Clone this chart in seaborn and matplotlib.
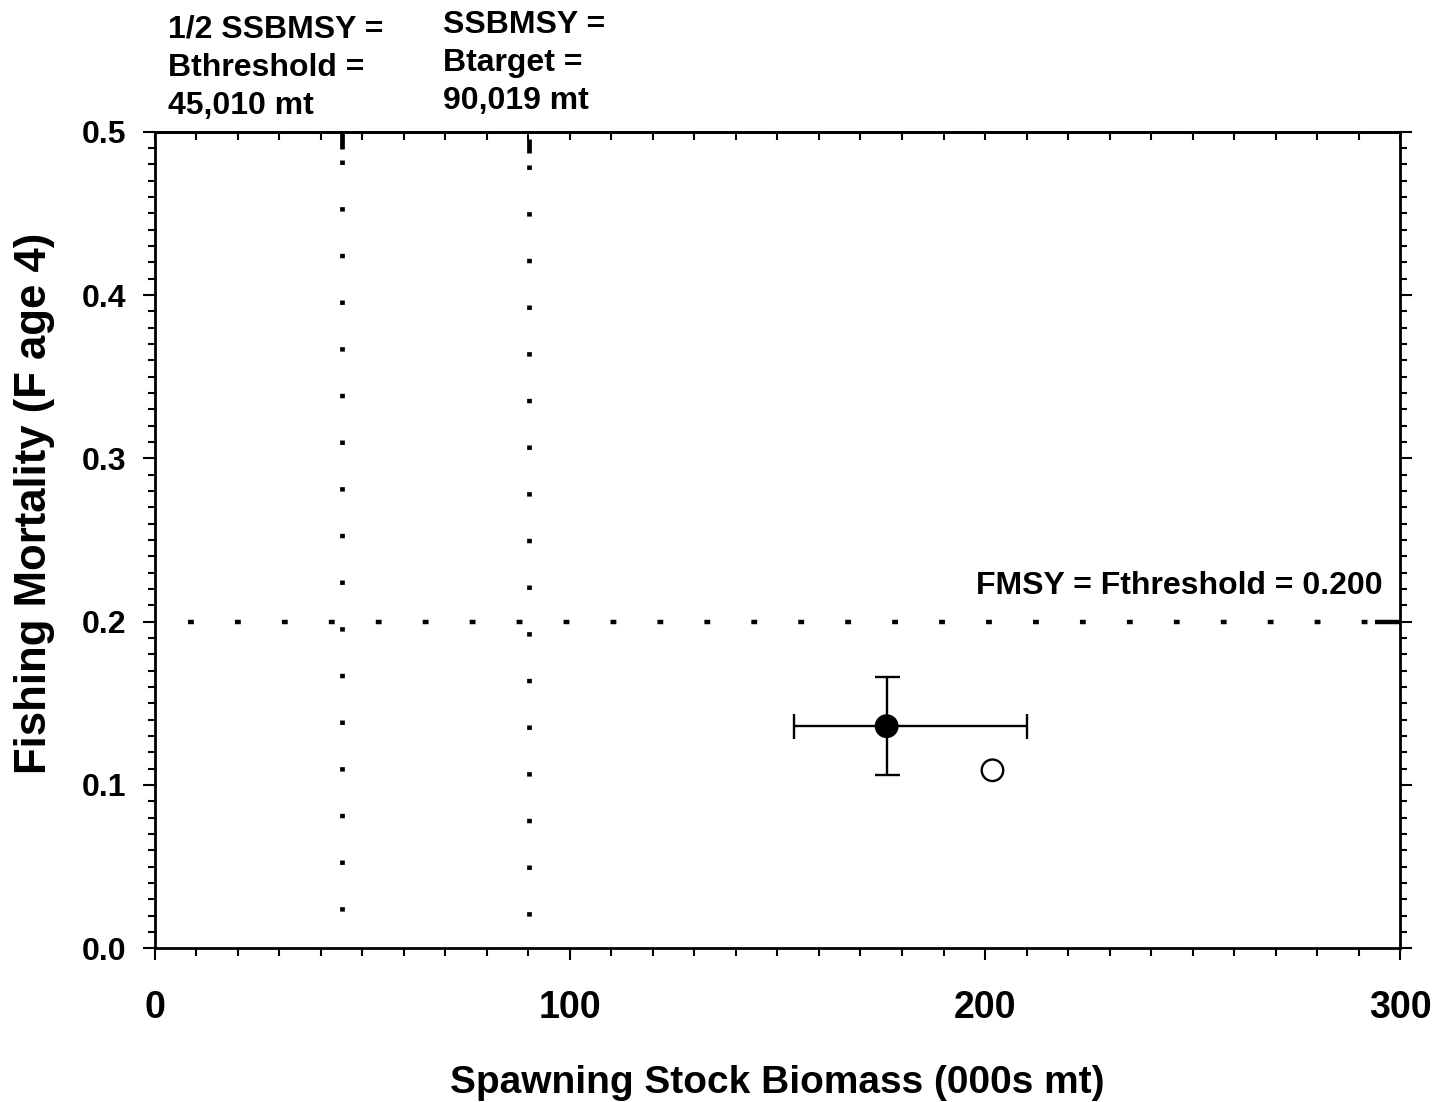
import numpy as np
import seaborn as sns
import matplotlib.pyplot as plt
import pandas as pd
from matplotlib.ticker import MultipleLocator

# ------------- Datos -------------
ssb = [176.3, 201.8]            # 000s mt
f_age4 = [0.136, 0.109]
estado = ["actual", "ajustado"]
ssb_lo, ssb_hi = 154.0, 210.2
f_lo, f_hi = 0.106, 0.166

b_threshold = 45.010
b_target = 90.019
f_msy = 0.200

sns.set_style("ticks", {"axes.edgecolor": "black", "text.color": "black",
                        "axes.labelcolor": "black", "xtick.color": "black",
                        "ytick.color": "black"})
plt.rcParams["font.family"] = ["Liberation Sans", "DejaVu Sans"]
plt.rcParams["font.weight"] = "bold"
plt.rcParams["lines.scale_dashes"] = False

fig = plt.figure(figsize=(14.41, 11.02), dpi=100)
ax = fig.add_axes([0.10756, 0.13947, 0.86399, 0.74102])

df = pd.DataFrame({"ssb": ssb, "f": f_age4, "estado": estado})

# barras de error del punto actual
ax.errorbar(ssb[0], f_age4[0],
            xerr=[[ssb[0] - ssb_lo], [ssb_hi - ssb[0]]],
            yerr=[[f_age4[0] - f_lo], [f_hi - f_age4[0]]],
            fmt="none", ecolor="black", elinewidth=1.7, capsize=9, capthick=1.7, zorder=2)

sns.scatterplot(data=df, x="ssb", y="f", hue="estado",
                palette={"actual": "black", "ajustado": "white"},
                edgecolor="black", linewidth=1.7, s=240, legend=False, ax=ax, zorder=3)

# lineas de referencia punteadas
punto = dict(color="black", lw=3.4, dashes=(3.2, 30.4), dash_capstyle="butt")
ax.plot([b_threshold, b_threshold], [0.4824, 0.0], **punto)
ax.plot([b_target, b_target], [0.4798, 0.0], **punto)
ax.plot([7.95, 300], [f_msy, f_msy], color="black", lw=3.2, dashes=(4.2, 29.6),
        dash_capstyle="butt")
ax.plot([b_threshold, b_threshold], [0.4993, 0.4895], color="black", lw=3.4, solid_capstyle="butt")
ax.plot([b_target, b_target], [0.4956, 0.4870], color="black", lw=3.4, solid_capstyle="butt")
ax.plot([294, 300], [f_msy, f_msy], color="black", lw=3.2, solid_capstyle="butt")

ax.set_xlim(0, 300)
ax.set_ylim(0, 0.5)
ax.set_xticks([0, 100, 200, 300])
ax.set_yticks([0.0, 0.1, 0.2, 0.3, 0.4, 0.5])
ax.set_yticklabels(["0.0", "0.1", "0.2", "0.3", "0.4", "0.5"])
ax.xaxis.set_minor_locator(MultipleLocator(10))
ax.yaxis.set_minor_locator(MultipleLocator(0.01))

for s in ax.spines.values():
    s.set_linewidth(2.0)
    s.set_visible(True)

ax.tick_params(axis="x", which="major", direction="out", length=8.6, width=1.5,
               labelsize=27, pad=21.5, top=False)
ax.tick_params(axis="x", which="minor", direction="out", length=5.5, width=1.5, top=False)
ax.tick_params(axis="y", which="major", direction="out", length=8.6, width=1.5,
               labelsize=23, pad=12, right=True)
ax.tick_params(axis="y", which="minor", direction="out", length=5.0, width=1.5, right=True)

arriba = ax.secondary_xaxis("top")
arriba.set_xticks([0, 100, 200, 300])
arriba.xaxis.set_minor_locator(MultipleLocator(10))
arriba.tick_params(axis="x", which="both", direction="in", length=5.5, width=1.5, labeltop=False)
arriba.spines["top"].set_linewidth(2.0)

ax.set_xlabel("Spawning Stock Biomass (000s mt)", fontsize=28, fontweight="bold", labelpad=28)
ax.set_ylabel("Fishing Mortality (F age 4)", fontsize=31.5, fontweight="bold", labelpad=19)
ax.yaxis.label.set_y(0.545)

ax.text(295.9, 0.2167, "FMSY = Fthreshold = 0.200", ha="right", va="baseline",
        fontsize=23, fontweight="bold")
fig.text(0.1166, 1 - 68 / 1102, "1/2 SSBMSY =\nBthreshold =\n45,010 mt", ha="left", va="center",
         fontsize=23, fontweight="bold", linespacing=1.35)
fig.text(0.3074, 1 - 63 / 1102, "SSBMSY =\nBtarget =\n90,019 mt", ha="left", va="center",
         fontsize=23, fontweight="bold", linespacing=1.35)

plt.savefig("out.png", dpi=100)
